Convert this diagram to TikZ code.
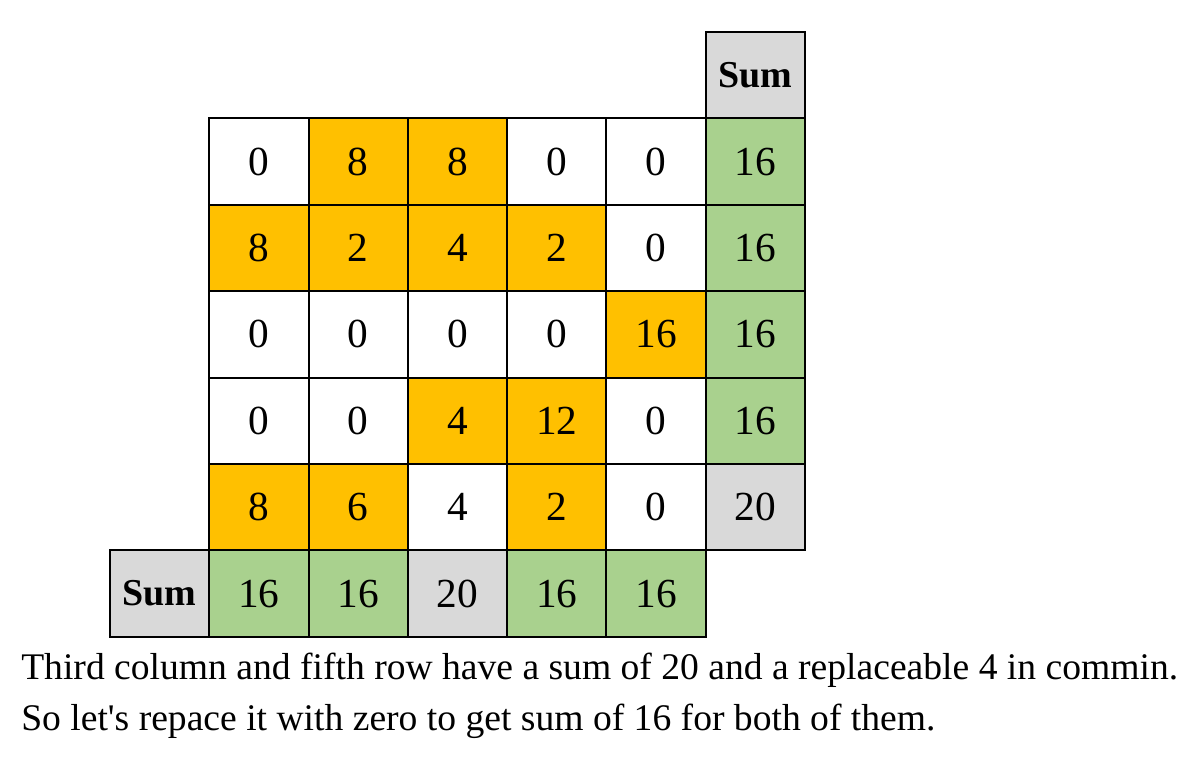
\documentclass[tikz,border=0pt]{standalone}
\usepackage{fontspec}
\setmainfont{Liberation Serif}
\definecolor{cellorange}{HTML}{FFC000}
\definecolor{cellgreen}{HTML}{A9D18E}
\definecolor{cellgray}{HTML}{D9D9D9}
\newcommand{\straightquote}{\XeTeXglyph\XeTeXcharglyph"27\relax}
\tikzset{
  cellbox/.style={draw=black, line width=1.5pt, minimum width=74.5pt, minimum height=64.8pt,
    inner sep=0pt, outer sep=0pt, anchor=center, font=\fontsize{31}{31}\selectfont},
  wcell/.style={cellbox, fill=white},
  ocell/.style={cellbox, fill=cellorange},
  gcell/.style={cellbox, fill=cellgreen},
  scell/.style={cellbox, fill=cellgray},
  sumhead/.style={cellbox, fill=cellgray, font=\fontsize{28.5}{28.5}\selectfont\bfseries},
  note/.style={anchor=base west, inner sep=0pt, font=\fontsize{28.2}{28.2}\selectfont}
}
\begin{document}
\begin{tikzpicture}[x=0.75pt,y=-0.75pt]
\useasboundingbox (0,0) rectangle (1200,758);
% column centers: 110+99.3*(i+0.5); row centers: 32+86.4*(j+0.5)
% header
\node[sumhead] (sumR) at ({110+99.3*6.5},{32+86.4*0.5}) {Sum};
% row 1
\node[wcell] (a11) at ({110+99.3*1.5},{32+86.4*1.5}) {0};
\node[ocell] (a12) at ({110+99.3*2.5},{32+86.4*1.5}) {8};
\node[ocell] (a13) at ({110+99.3*3.5},{32+86.4*1.5}) {8};
\node[wcell] (a14) at ({110+99.3*4.5},{32+86.4*1.5}) {0};
\node[wcell] (a15) at ({110+99.3*5.5},{32+86.4*1.5}) {0};
\node[gcell] (r1)  at ({110+99.3*6.5},{32+86.4*1.5}) {16};
% row 2
\node[ocell] (a21) at ({110+99.3*1.5},{32+86.4*2.5}) {8};
\node[ocell] (a22) at ({110+99.3*2.5},{32+86.4*2.5}) {2};
\node[ocell] (a23) at ({110+99.3*3.5},{32+86.4*2.5}) {4};
\node[ocell] (a24) at ({110+99.3*4.5},{32+86.4*2.5}) {2};
\node[wcell] (a25) at ({110+99.3*5.5},{32+86.4*2.5}) {0};
\node[gcell] (r2)  at ({110+99.3*6.5},{32+86.4*2.5}) {16};
% row 3
\node[wcell] (a31) at ({110+99.3*1.5},{32+86.4*3.5}) {0};
\node[wcell] (a32) at ({110+99.3*2.5},{32+86.4*3.5}) {0};
\node[wcell] (a33) at ({110+99.3*3.5},{32+86.4*3.5}) {0};
\node[wcell] (a34) at ({110+99.3*4.5},{32+86.4*3.5}) {0};
\node[ocell] (a35) at ({110+99.3*5.5},{32+86.4*3.5}) {16};
\node[gcell] (r3)  at ({110+99.3*6.5},{32+86.4*3.5}) {16};
% row 4
\node[wcell] (a41) at ({110+99.3*1.5},{32+86.4*4.5}) {0};
\node[wcell] (a42) at ({110+99.3*2.5},{32+86.4*4.5}) {0};
\node[ocell] (a43) at ({110+99.3*3.5},{32+86.4*4.5}) {4};
\node[ocell] (a44) at ({110+99.3*4.5},{32+86.4*4.5}) {12};
\node[wcell] (a45) at ({110+99.3*5.5},{32+86.4*4.5}) {0};
\node[gcell] (r4)  at ({110+99.3*6.5},{32+86.4*4.5}) {16};
% row 5
\node[ocell] (a51) at ({110+99.3*1.5},{32+86.4*5.5}) {8};
\node[ocell] (a52) at ({110+99.3*2.5},{32+86.4*5.5}) {6};
\node[wcell] (a53) at ({110+99.3*3.5},{32+86.4*5.5}) {4};
\node[ocell] (a54) at ({110+99.3*4.5},{32+86.4*5.5}) {2};
\node[wcell] (a55) at ({110+99.3*5.5},{32+86.4*5.5}) {0};
\node[scell] (r5)  at ({110+99.3*6.5},{32+86.4*5.5}) {20};
% sum row
\node[sumhead] (sumC) at ({110+99.3*0.5},{32+86.4*6.5}) {Sum};
\node[gcell] (c1) at ({110+99.3*1.5},{32+86.4*6.5}) {16};
\node[gcell] (c2) at ({110+99.3*2.5},{32+86.4*6.5}) {16};
\node[scell] (c3) at ({110+99.3*3.5},{32+86.4*6.5}) {20};
\node[gcell] (c4) at ({110+99.3*4.5},{32+86.4*6.5}) {16};
\node[gcell] (c5) at ({110+99.3*5.5},{32+86.4*6.5}) {16};
% note
\node[note] (t1) at (21,679) {Third column and fifth row have a sum of 20 and a replaceable 4 in commin.};
\node[note] (t2) at (21,730) {So let\straightquote s repace it with zero to get sum of 16 for both of them.};
\end{tikzpicture}
\end{document}
